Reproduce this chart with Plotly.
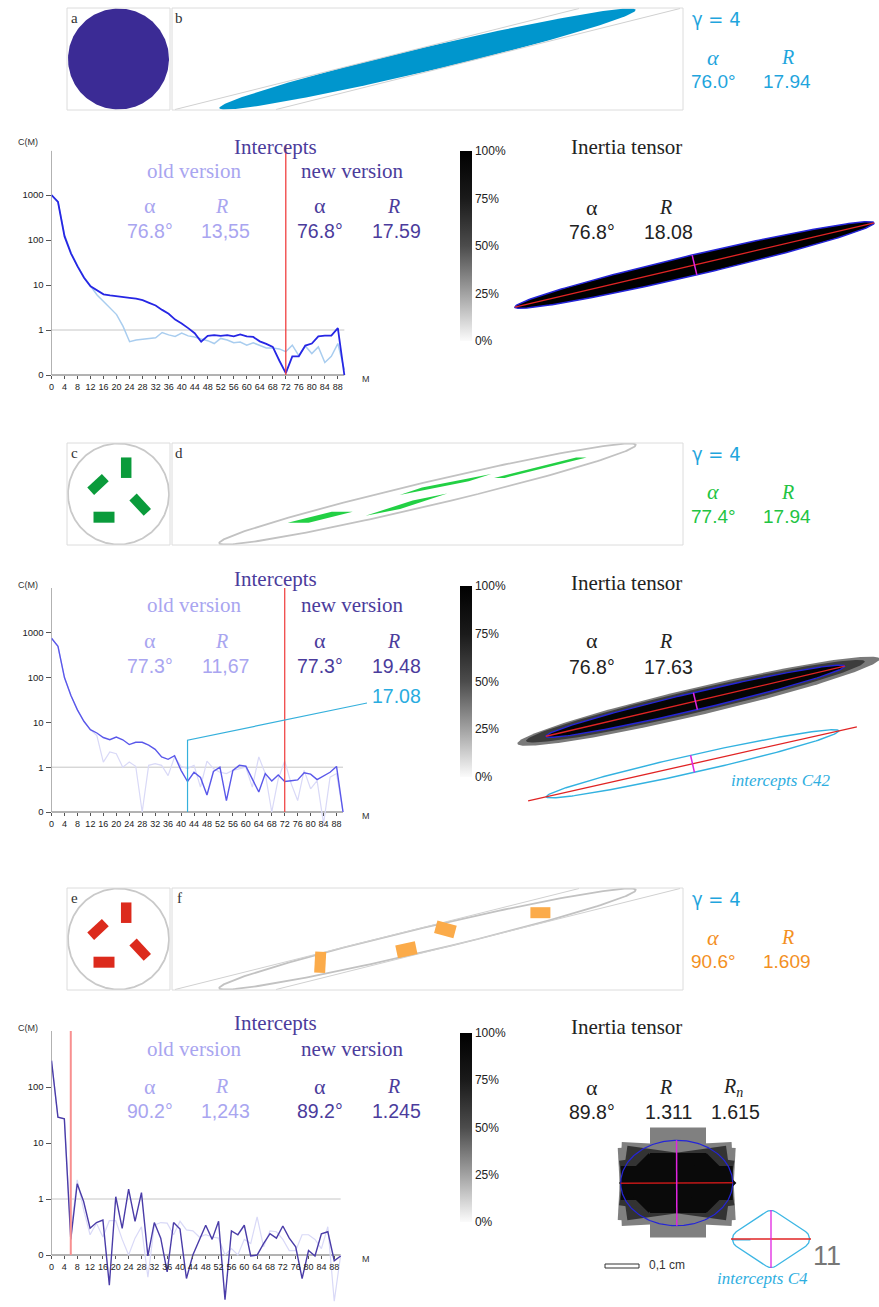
import numpy as np
import plotly.graph_objects as go

W, H = 879, 1307
SANS = "Liberation Sans, Arial, sans-serif"
SERIF = "Liberation Serif, Times New Roman, serif"

# ---------------------------------------------------------------- data ----
# lag M of the intercept correlation function
M = list(range(0, 91, 2))

# set 1 : single sheared ellipse
c1_old = [1000, 700, 130, 52, 27, 15, 9.5, 6, 4.3, 3.1, 2.2, 1.2, 0.55, 0.6, 0.63, 0.65,
          0.67, 0.88, 0.78, 0.72, 0.85, 0.74, 0.7, 0.63, 0.58, 0.5, 0.65, 0.6, 0.52, 0.54,
          0.46, 0.52, 0.45, 0.4, 0.4, 0.38, 0.33, 0.46, 0.27, 0.44, 0.3, 0.42, 0.19, 0.26,
          0.5, 0.13]
c1_new = [1000, 700, 120, 50, 26, 14.5, 9.4, 7.5, 6.2, 5.9, 5.6, 5.3, 5.2, 5.0, 4.6, 4.0,
          3.5, 2.8, 2.3, 1.7, 1.4, 1.1, 0.85, 0.55, 0.74, 0.77, 0.74, 0.77, 0.72, 0.8, 0.72,
          0.7, 0.56, 0.49, 0.42, 0.21, 0.11, 0.26, 0.26, 0.45, 0.5, 0.72, 0.75, 0.75, 1.1, 0.1]

# set 2 : four sheared rectangles
c2_old = [760, 500, 100, 40, 19, 10.6, 6.9, 5.1, 1.3, 2.2, 2.0, 1.0, 1.3, 1.05, 0.1, 1.1,
          1.2, 1.1, 0.65, 1.7, 1.05, 0.93, 1.1, 0.36, 1.37, 0.93, 0.77, 0.72, 0.85, 0.93,
          1.0, 0.36, 1.7, 0.72, 0.1, 0.55, 1.37, 0.43, 0.18, 0.85, 0.33, 0.5, 0.055, 0.6,
          0.72, 0.1]
c2_new = [760, 500, 100, 40, 19, 10.6, 6.9, 5.8, 4.6, 4.1, 4.7, 4.1, 3.2, 3.6, 3.6, 3.1,
          2.5, 1.7, 1.5, 1.8, 0.85, 0.48, 0.77, 0.59, 0.24, 0.8, 1.0, 0.18, 0.85, 1.1, 1.05,
          0.55, 0.28, 0.72, 0.49, 0.67, 0.48, 0.5, 0.52, 0.75, 0.7, 0.53, 0.64, 0.77, 1.04, 0.1]

# set 3 : four rigid rectangles
c3_old = [295, 29, 27, 0.25, 2.2, 0.64, 0.23, 0.37, 0.21, 0.41, 0.41, 0.19, 0.1, 0.2, 0.32,
          0.04, 0.34, 0.38, 0.37, 0.23, 0.4, 0.28, 0.27, 0.21, 0.23, 0.21, 0.2, 0.1, 0.13,
          0.1, 0.19, 0.16, 0.48, 0.14, 0.27, 0.26, 0.19, 0.12, 0.12, 0.23, 0.23, 0.19, 0.13,
          0.32, 0.015, 0.1]
c3_new = [295, 29, 27, 0.19, 1.87, 0.9, 0.3, 0.38, 0.42, 0.029, 1.1, 0.3, 1.5, 0.4, 1.3,
          0.096, 0.38, 0.2, 0.05, 0.38, 0.29, 0.038, 0.1, 0.19, 0.34, 0.19, 0.4, 0.016, 0.27,
          0.23, 0.34, 0.096, 0.1, 0.16, 0.24, 0.2, 0.33, 0.2, 0.14, 0.038, 0.12, 0.096, 0.24,
          0.26, 0.079, 0.096]

m_ticks = list(range(0, 89, 4))
c_ticks = [0.1, 1, 10, 100, 1000]
c_ticktext = ["0", "1", "10", "100", "1000"]

# selected lag (red marker) per set, and the C42 read-out of set 2
m_selected = [72, 72, 6]
m_c42 = 42
c_c42 = 4
r_c42 = 17.08

# intercept results: (alpha, R) for old and new versions
old_results = [("76.8°", "13,55"), ("77.3°", "11,67"), ("90.2°", "1,243")]
new_results = [("76.8°", "17.59"), ("77.3°", "19.48"), ("89.2°", "1.245")]

# inertia tensor results
inertia_alpha = [76.8, 76.8, 89.8]
inertia_R = [18.08, 17.63, 1.311]
inertia_Rn = 1.615

# simulated deformation
GAMMA = 4
model_results = [("76.0°", "17.94"), ("77.4°", "17.94"), ("90.6°", "1.609")]
# markers in the undeformed circle: centre x, centre y, length, width, angle
markers = [(7.7, 26.3, 10.5, 20.5, 0),
           (-20.5, 9.6, 20, 10, 43),
           (21.7, -10.7, 21, 10, -47),
           (-14.5, -23.2, 21, 11, 0)]
# rigid markers after deformation: length, width, angle
rigid_markers = [(20, 11, 0), (20, 13, -15), (20, 13, 12), (11, 21, -3)]

# ------------------------------------------------------------- helpers ----
fig = go.Figure()
axes = {}
annotations = []
shapes = []
counter = [0]


def fx(x):
    return x / W


def fy(y):
    return 1 - y / H


def add_axes(x0, x1, y0, y1, xr, yr, ytype="linear"):
    counter[0] += 1
    s = "" if counter[0] == 1 else str(counter[0])
    axes["xaxis" + s] = dict(domain=[fx(x0), fx(x1)], range=xr, anchor="y" + s,
                             visible=False, fixedrange=True, showgrid=False, zeroline=False)
    axes["yaxis" + s] = dict(domain=[fy(y1), fy(y0)], range=yr, type=ytype, anchor="x" + s,
                             visible=False, fixedrange=True, showgrid=False, zeroline=False)
    return "x" + s, "y" + s, s


def pixel_axes(x0, x1, y0, y1, cx, cy):
    # one unit per pixel, origin at (cx, cy), y pointing up
    return add_axes(x0, x1, y0, y1, [x0 - cx, x1 - cx], [cy - y1, cy - y0])


def draw(ax, xs, ys, fill=None, line=None, width=1.0, dash=None):
    fig.add_trace(go.Scatter(
        x=list(np.asarray(xs, dtype=float)), y=list(np.asarray(ys, dtype=float)),
        xaxis=ax[0], yaxis=ax[1], mode="lines",
        fill="toself" if fill else None, fillcolor=fill,
        line=dict(color=line if line else (fill or "rgba(0,0,0,0)"),
                  width=width if line else 0, dash=dash),
        hoverinfo="skip", showlegend=False))


def ellipse(cx, cy, length, ratio, angle, n=240):
    a = length / 2
    b = a / ratio
    t = np.linspace(0, 2 * np.pi, n)
    th = np.radians(angle)
    u, v = a * np.cos(t), b * np.sin(t)
    return cx + u * np.cos(th) - v * np.sin(th), cy + u * np.sin(th) + v * np.cos(th)


def rect(cx, cy, w, h, angle):
    th = np.radians(angle)
    u = np.array([-w / 2, w / 2, w / 2, -w / 2, -w / 2])
    v = np.array([-h / 2, -h / 2, h / 2, h / 2, -h / 2])
    return cx + u * np.cos(th) - v * np.sin(th), cy + u * np.sin(th) + v * np.cos(th)


def rounded_rhombus(cx, cy, a, b, r, n=60):
    # rhombus with half-diagonals a, b whose corners are rounded with radius r
    verts = [(a - r, 0), (0, b - r), (-(a - r), 0), (0, -(b - r))]
    pts = []
    for vx, vy in verts:
        t = np.linspace(0, 2 * np.pi, n, endpoint=False)
        pts.append(np.column_stack([vx + r * np.cos(t), vy + r * np.sin(t)]))
    pts = np.vstack(pts)
    ang = np.arctan2(pts[:, 1], pts[:, 0])
    pts = pts[np.argsort(ang)]
    # convex hull (monotone chain on angle-sorted points)
    hull = []
    for p in np.vstack([pts, pts[:2]]):
        while len(hull) >= 2:
            o, q = hull[-2], hull[-1]
            cross = (q[0] - o[0]) * (p[1] - o[1]) - (q[1] - o[1]) * (p[0] - o[0])
            if cross <= 0:
                hull.pop()
            else:
                break
        hull.append(p)
    hull = np.array(hull)
    return cx + hull[:, 0], cy + hull[:, 1]


def segment(cx, cy, length, angle):
    th = np.radians(angle)
    d = np.array([-length / 2, length / 2])
    return cx + d * np.cos(th), cy + d * np.sin(th)


def text(x, y, s, size, color, family=SANS, xanchor="center", **kw):
    annotations.append(dict(x=fx(x), y=fy(y), xref="paper", yref="paper", text=s,
                            showarrow=False, xanchor=xanchor, yanchor="middle",
                            font=dict(size=size, color=color, family=family), **kw))


def box(x0, y0, x1, y1, color="#dcdcdc", width=1, fill=None):
    shapes.append(dict(type="rect", xref="paper", yref="paper", x0=fx(x0), x1=fx(x1),
                       y0=fy(y1), y1=fy(y0), line=dict(color=color, width=width),
                       fillcolor=fill or "rgba(0,0,0,0)"))


# ------------------------------------------------ deformation panels ----
CYAN = "#1fa5dd"
row_tops = [8, 443, 888]
RADIUS = 50.5
B_OFFSET = 309  # horizontal offset of panel b/d/f centre from panel a/c/e centre


def shear(x, y):
    x = np.asarray(x, dtype=float)
    y = np.asarray(y, dtype=float)
    return x + GAMMA * y + B_OFFSET, y


row_colors = [CYAN, "#22c442", "#f3901f"]
letters = [("a", "b"), ("c", "d"), ("e", "f")]
for i, top in enumerate(row_tops):
    box(67, top, 170, top + 102)
    box(172, top, 683, top + 102)
    ax = pixel_axes(67, 683, top, top + 102, 118.5, top + 51)
    cx, cy = ellipse(0, 0, 2 * RADIUS, 1, 0)
    sx, sy = shear(cx, cy)
    if i == 0:
        draw(ax, cx, cy, fill="#3b2b95")
        draw(ax, sx, sy, fill="#0096cd")
    else:
        draw(ax, cx, cy, line="#c9c9c9", width=1.8)
        draw(ax, sx, sy, line="#c2c2c2", width=1.8)
    if i in (0, 2):
        for e in (-RADIUS, RADIUS):
            lx, ly = shear([e, e], [-RADIUS, RADIUS])
            draw(ax, lx, ly, line="#d0d0d0", width=1)
    if i == 1:
        for (mx, my, w, h, a) in markers:
            px_, py_ = rect(mx, my, w, h, a)
            draw(ax, px_, py_, fill="#0a9b3b")
            qx, qy = shear(px_, py_)
            draw(ax, qx, qy, fill="#22d044")
    if i == 2:
        for (mx, my, w, h, a), (rw, rh, ra) in zip(markers, rigid_markers):
            px_, py_ = rect(mx, my, w, h, a)
            draw(ax, px_, py_, fill="#dc2a1c")
            gx, gy = shear([mx], [my])
            qx, qy = rect(gx[0], gy[0], rw, rh, ra)
            draw(ax, qx, qy, fill="#fbab4a")
    text(74, top + 10, letters[i][0], 15, "#333", SERIF)
    text(179, top + 10, letters[i][1], 15, "#333", SERIF)
    text(690, top + 11, "γ = 4", 20, CYAN, "DejaVu Sans Condensed, DejaVu Sans, sans-serif",
         xanchor="left")
    text(713, top + 49, "<i>α</i>", 22, row_colors[i], SERIF)
    text(787, top + 49, "<i>R</i>", 20, row_colors[i], SERIF)
    text(713, top + 73, model_results[i][0], 19, row_colors[i])
    text(787, top + 73, model_results[i][1], 19, row_colors[i])

# ---------------------------------------------------- C(M) line charts ----
DARK = "#4b3c9c"
LIGHT = "#a9a5f0"
charts = [
    dict(old=c1_old, new=c1_new, zero=375, decade=45.0, top=143, bottom=392, ax_top=3.98,
         red_top=4.11, scale=3.254, old_col="#a9cdef", new_col="#2626e4", new_w=1.8,
         old_w=1.5, red="#f04040", red_w=1.3, nt=5, base=130),
    dict(old=c2_old, new=c2_new, zero=812, decade=44.8, top=586, bottom=830, ax_top=4.0,
         red_top=4.0, scale=3.239, old_col="#d9d9f7", new_col="#5a58ea", new_w=1.4,
         old_w=1.2, red="#f04848", red_w=1.3, nt=5, base=570),
    dict(old=c3_old, new=c3_new, zero=1255, decade=56.0, top=1029, bottom=1305, ax_top=3.0,
         red_top=3.0, scale=3.213, old_col="#d9d9f7", new_col="#4a3ca8", new_w=1.4,
         old_w=1.2, red="#f89090", red_w=2.0, nt=4, base=1010),
]
X0, X1 = 51.5, 420
for k, ch in enumerate(charts):
    xr = [0, (X1 - X0) / ch["scale"]]
    yr = [-1 - (ch["bottom"] - ch["zero"]) / ch["decade"],
          -1 + (ch["zero"] - ch["top"]) / ch["decade"]]
    xa, ya, s = add_axes(X0, X1, ch["top"], ch["bottom"], xr, yr, ytype="log")
    axes["xaxis" + s].update(visible=True, anchor="free", position=fy(ch["zero"]),
                             showline=False, ticks="outside", ticklen=3, tickwidth=1,
                             tickcolor="#555", tickmode="array", tickvals=m_ticks,
                             tickfont=dict(size=9, family=SANS, color="#222"))
    axes["yaxis" + s].update(visible=True, showline=False, ticks="outside", ticklen=5,
                             tickwidth=1, tickcolor="#555", tickmode="array",
                             tickvals=c_ticks[:ch["nt"]], ticktext=c_ticktext[:ch["nt"]],
                             tickfont=dict(size=9.5, family=SANS, color="#222"))
    ax = (xa, ya)
    # reference level C = 1 and axis lines
    draw(ax, [0, 90], [1, 1], line="#c6c6c6", width=1)
    draw(ax, [0, 0], [0.1, 10 ** ch["ax_top"]], line="#666", width=1)
    draw(ax, [0, 90], [0.1, 0.1], line="#666", width=1)
    draw(ax, M, ch["old"], line=ch["old_col"], width=ch["old_w"])
    draw(ax, M, ch["new"], line=ch["new_col"], width=ch["new_w"])
    draw(ax, [m_selected[k]] * 2, [0.1, 10 ** ch["red_top"]], line=ch["red"], width=ch["red_w"])
    if k == 1:
        m_end = (367 - X0) / ch["scale"]
        c_end = 10 ** (-1 + (ch["zero"] - 703) / ch["decade"])
        draw(ax, [m_c42, m_c42, m_end], [0.1, c_c42, c_end], line="#35b0dc", width=1.2)
        text(396, 696, f"{r_c42:.2f}", 19.5, "#29ace0")
    b = ch["base"]
    text(28, ch["top"] - 1, "C(M)", 9, "#333")
    text(366, ch["zero"] + 4, "M", 9, "#333")
    text(275, b + 17 + (-8 if k == 1 else 0) + (-4 if k == 2 else 0), "Intercepts", 21, DARK, SERIF)
    yv = b + 41 + (-6 if k == 1 else 0) + (-2 if k == 2 else 0)
    text(194, yv, "old version", 21, LIGHT, SERIF)
    text(352, yv, "new version", 21, DARK, SERIF)
    ya_ = b + 76 + (-5 if k == 1 else 0)
    yvals = b + 101 + (-5 if k == 1 else 0)
    text(150, ya_, "α", 22, LIGHT, SERIF)
    text(222, ya_, "<i>R</i>", 20, LIGHT, SERIF)
    text(320, ya_, "α", 22, DARK, SERIF)
    text(393, ya_, "<i>R</i>", 20, DARK, SERIF)
    text(150, yvals, old_results[k][0], 19.5, LIGHT)
    text(226, yvals, old_results[k][1], 19.5, LIGHT)
    text(320, yvals, new_results[k][0], 19.5, DARK)
    text(396, yvals, new_results[k][1], 19.5, DARK)

# ------------------------------------------------ inertia tensor panels ----
GRAYS = [[0, "#fbfbfb"], [0.25, "#a2a2a2"], [0.5, "#4c4c4c"], [0.75, "#1a1a1a"], [1, "#000000"]]
BLUE = "#2424d8"
RED = "#e02424"
MAG = "#e024e0"
bar_tops = [151, 586, 1033]
bar_len = [190, 191, 189]
panel_tops = [130, 570, 1010]

for k in range(3):
    top = panel_tops[k]
    if k == 0:
        ax = pixel_axes(478, 879, 135, 360, 694.5, 265)
    elif k == 1:
        ax = pixel_axes(478, 879, 575, 830, 695.4, 701.2)
    else:
        ax = pixel_axes(478, 879, 1015, 1300, 676.7, 1183)
    # grey-level scale of the density map
    fig.add_trace(go.Scatter(
        x=[0], y=[0], xaxis=ax[0], yaxis=ax[1], mode="markers", hoverinfo="skip",
        marker=dict(size=1, opacity=0, color=[0], cmin=0, cmax=100, colorscale=GRAYS,
                    showscale=True,
                    colorbar=dict(x=fx(460), xanchor="left", xpad=0, y=fy(bar_tops[k]),
                                  yanchor="top", ypad=0, lenmode="pixels", len=bar_len[k],
                                  thicknessmode="pixels", thickness=12, outlinewidth=0,
                                  tickmode="array", tickvals=[0, 25, 50, 75, 100],
                                  ticktext=["0%", "25%", "50%", "75%", "100%"], ticks="",
                                  tickfont=dict(size=12, family=SANS, color="#222"))),
        showlegend=False))
    text(626, top + 17 - (4 if k == 1 else 0), "Inertia tensor", 21, "#222", SERIF)
    ya_ = top + 77 - (6 if k == 1 else 0)
    yv = top + 102 - (5 if k == 1 else 0)
    text(592, ya_, "α", 22, "#222", SERIF)
    text(665, ya_, "<i>R</i>", 20, "#222", SERIF)
    text(592, yv, f"{inertia_alpha[k]:.1f}°", 19.5, "#222")
    text(668, yv, f"{inertia_R[k]}", 19.5, "#222")
    ang = 90 - inertia_alpha[k]
    if k == 0:
        L = 369
        ex, ey = ellipse(0, 0, L, inertia_R[k], ang)
        draw(ax, ex, ey, fill="#000000", line=BLUE, width=1.5)
        sx, sy = segment(0, 0, L, ang)
        draw(ax, sx, sy, line=RED, width=1.3)
        sx, sy = segment(0, 0, L / inertia_R[k], ang + 90)
        draw(ax, sx, sy, line=MAG, width=1.5)
    elif k == 1:
        L = 307
        hx, hy = ellipse(3, 0, 372, 372 / 28, ang)
        draw(ax, hx, hy, fill="#7a7a7a")
        hx, hy = ellipse(0, 0, 348, 348 / 23, ang)
        draw(ax, hx, hy, fill="#3c3c3c")
        ex, ey = ellipse(0, 0, L, inertia_R[k], ang)
        draw(ax, ex, ey, fill="#050505", line=BLUE, width=1.4)
        sx, sy = segment(0, 0, L, ang)
        draw(ax, sx, sy, line=RED, width=1.3)
        sx, sy = segment(0, 0, L / inertia_R[k], ang + 90)
        draw(ax, sx, sy, line=MAG, width=1.5)
        # shape from the intercepts at M = 42
        c_ang = 90 - 77.3
        ccx, ccy = -2.9, -62.6
        ex, ey = ellipse(ccx, ccy, 300, r_c42, c_ang)
        draw(ax, ex, ey, line="#33b2e0", width=1.4)
        sx, sy = segment(ccx, ccy, 337, c_ang)
        draw(ax, sx, sy, line=RED, width=1.3)
        sx, sy = segment(ccx, ccy, 300 / r_c42, c_ang + 90)
        draw(ax, sx, sy, line=MAG, width=1.5)
        text(780, 780, "<i>intercepts C42</i>", 17, "#2eaee0", SERIF)
    else:
        text(733, ya_, "<i>R<sub>n</sub></i>", 20, "#222", SERIF)
        text(735, yv, f"{inertia_Rn}", 19.5, "#222")
        blob = [(1.3, 0.5, 56, 110, 0, "#808080"),
                (0, -1, 114, 78, 3, "#808080"),
                (0, -1, 114, 78, -3, "#808080"),
                (0, 0, 108, 60, 8, "#333333"),
                (0, 0, 108, 60, -8, "#333333"),
                (1.3, 0, 56, 60, 0, "#0a0a0a"),
                (0, 0, 112, 34, 0, "#0a0a0a"),
                (-28, 0, 42, 42, 45, "#0a0a0a"),
                (30, 0, 42, 42, 45, "#0a0a0a")]
        for (bx, by, bw, bh, ba, col) in blob:
            qx, qy = rect(bx, by, bw, bh, ba)
            draw(ax, qx, qy, fill=col)
        L = 112
        ex, ey = ellipse(0, 0, L, inertia_R[k], ang)
        draw(ax, ex, ey, line=BLUE, width=1.2)
        sx, sy = segment(0, 0, L, ang)
        draw(ax, sx, sy, line="#c01818", width=1.5)
        sx, sy = segment(0, 0, L / inertia_R[k], ang + 90)
        draw(ax, sx, sy, line=MAG, width=1.5)
        # shape from the intercepts at M = 4 (rounded rhombus)
        cxx, cyy = 94.3, -56
        rx, ry = rounded_rhombus(cxx, cyy, 38.5, 28.5, 9)
        draw(ax, rx, ry, line="#3cb6e4", width=1.3)
        draw(ax, [cxx - 40, cxx + 40], [cyy, cyy], line=RED, width=1.3)
        draw(ax, [cxx, cxx], [cyy - 29, cyy + 29], line=MAG, width=1.3)
        text(762, 1278, "<i>intercepts C4</i>", 17, "#2eaee0", SERIF)
        box(605, 1264, 639, 1268, color="#333", width=1, fill="white")
        text(667, 1265, "0,1 cm", 12, "#333")
        text(827, 1256, "11", 27, "#777")

layout = dict(width=W, height=H, autosize=False, margin=dict(l=0, r=0, t=0, b=0, pad=0),
              paper_bgcolor="white", plot_bgcolor="rgba(0,0,0,0)", showlegend=False,
              template="none", annotations=annotations, shapes=shapes)
layout.update(axes)
fig.update_layout(**layout)
fig.write_html("out.html")
